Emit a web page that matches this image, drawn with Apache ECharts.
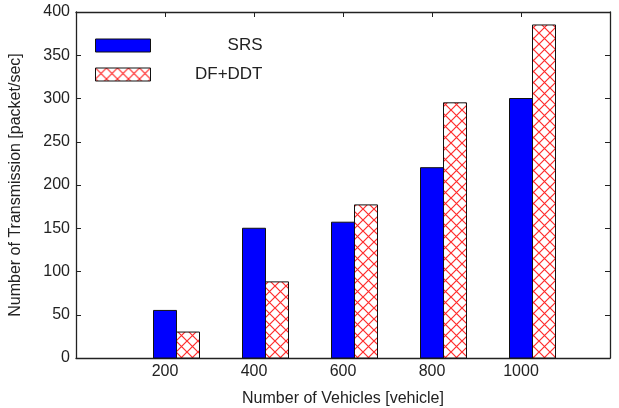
<!DOCTYPE html>
<html>
<head>
<meta charset="utf-8">
<script src="https://cdn.jsdelivr.net/npm/echarts@6/dist/echarts.min.js"></script>
<style>
html, body { margin: 0; padding: 0; background: #fff; }
#main { width: 619px; height: 408px; }
</style>
</head>
<body>
<div id="main"></div>
<script>
// data
var vehicles = [200, 400, 600, 800, 1000];
var srsData = [55, 150, 157, 220, 300];
var dfddtData = [30, 88, 177, 295, 385];
var seriesNames = ['SRS', 'DF+DDT'];

var font = '"Liberation Sans", Arial, Helvetica, sans-serif';
var ink = '#222';
var barW = 23;

// red cross hatch used by DF+DDT
function makeHatch() {
  var c = document.createElement('canvas');
  c.width = 11;
  c.height = 11;
  var ctx = c.getContext('2d');
  ctx.fillStyle = '#fff';
  ctx.fillRect(0, 0, 11, 11);
  ctx.strokeStyle = 'rgba(255,20,20,0.9)';
  ctx.lineWidth = 1.2;
  ctx.beginPath();
  ctx.moveTo(-1, -1); ctx.lineTo(12, 12);
  ctx.moveTo(12, -1); ctx.lineTo(-1, 12);
  ctx.stroke();
  return c;
}
var hatch = { image: makeHatch(), repeat: 'repeat' };

function pairs(values) {
  return vehicles.map(function (v, i) { return [v, values[i]]; });
}

// blue bar is centred on the tick, the hatched one sits to its right
function barItem(offset, fill) {
  return function (params, api) {
    var top = api.coord([api.value(0), api.value(1)]);
    var base = api.coord([api.value(0), 0]);
    return {
      type: 'rect',
      shape: { x: top[0] + offset, y: top[1], width: barW, height: base[1] - top[1] },
      style: { fill: fill, stroke: '#111', lineWidth: 1 }
    };
  };
}

var chart = echarts.init(document.getElementById('main'));

var xCommon = {
  type: 'value',
  min: 0,
  max: 1200,
  interval: 200,
  splitLine: { show: false },
  axisLine: { show: true, onZero: false, lineStyle: { color: ink, width: 1.3 } },
  axisTick: { show: true, inside: true, length: 5, lineStyle: { color: ink } }
};
var yCommon = {
  type: 'value',
  min: 0,
  max: 400,
  interval: 50,
  splitLine: { show: false },
  axisLine: { show: true, onZero: false, lineStyle: { color: ink, width: 1.3 } },
  axisTick: { show: true, inside: true, length: 5, lineStyle: { color: ink } }
};

var option = {
  animation: false,
  backgroundColor: '#fff',
  textStyle: { fontFamily: font },
  grid: { left: 76, right: 9, top: 12, bottom: 50, outerBoundsMode: 'none', containLabel: false },
  legend: {
    data: seriesNames,
    orient: 'vertical',
    left: 95,
    top: 37,
    padding: 0,
    itemWidth: 55,
    itemHeight: 13,
    itemGap: 12,
    icon: 'rect',
    itemStyle: { borderColor: '#111', borderWidth: 1 },
    formatter: '{a|{name}}',
    textStyle: {
      rich: {
        a: { width: 107, align: 'right', fontSize: 17, lineHeight: 13, color: ink, fontFamily: font }
      }
    }
  },
  xAxis: [
    Object.assign({}, xCommon, {
      position: 'bottom',
      name: 'Number of Vehicles [vehicle]',
      nameLocation: 'middle',
      nameGap: 33,
      nameTextStyle: { fontSize: 16, color: ink, fontFamily: font },
      axisLabel: {
        fontSize: 16,
        color: ink,
        margin: 6,
        formatter: function (v) { return (v === 0 || v === 1200) ? '' : String(v); }
      }
    }),
    Object.assign({}, xCommon, { position: 'top', axisLabel: { show: false } })
  ],
  yAxis: [
    Object.assign({}, yCommon, {
      position: 'left',
      name: 'Number of Transmission [packet/sec]',
      nameLocation: 'middle',
      nameGap: 52,
      nameTextStyle: { fontSize: 16, color: ink, fontFamily: font },
      axisLabel: { fontSize: 16, color: ink, margin: 6 }
    }),
    Object.assign({}, yCommon, { position: 'right', axisLabel: { show: false } })
  ],
  series: [
    {
      name: seriesNames[0],
      type: 'custom',
      xAxisIndex: 0,
      yAxisIndex: 0,
      itemStyle: { color: '#0000ff' },
      renderItem: barItem(-barW / 2, '#0000ff'),
      encode: { x: 0, y: 1 },
      data: pairs(srsData)
    },
    {
      name: seriesNames[1],
      type: 'custom',
      xAxisIndex: 0,
      yAxisIndex: 0,
      itemStyle: { color: hatch },
      renderItem: barItem(barW / 2, hatch),
      encode: { x: 0, y: 1 },
      data: pairs(dfddtData)
    }
  ]
};

chart.setOption(option);
</script>
</body>
</html>
